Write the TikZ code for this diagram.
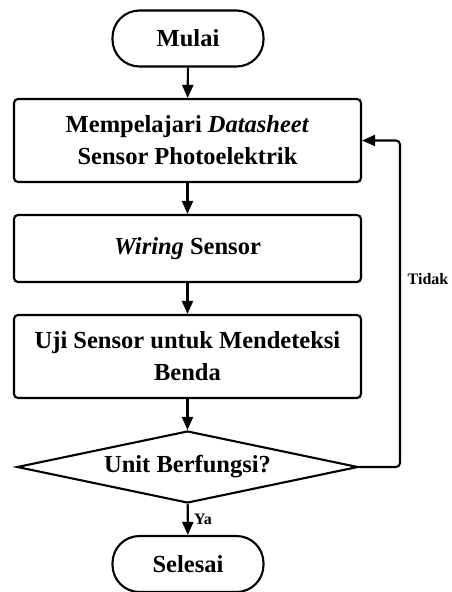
\documentclass[tikz,border=0pt]{standalone}
\usepackage{fontspec}
\setmainfont{Liberation Serif}
\usetikzlibrary{arrows.meta,shapes.geometric}
\begin{document}
\begin{tikzpicture}[x=1pt,y=1pt,
  line width=2.1pt,
  every node/.style={font=\fontsize{24.5}{32}\selectfont\bfseries, align=center},
  terminal/.style={draw, rectangle, rounded corners=27pt, minimum width=151pt, minimum height=56pt, inner sep=0pt},
  process/.style={draw, rectangle, rounded corners=4pt, minimum width=347pt, inner sep=0pt},
  decision/.style={draw, diamond, aspect=4.74, minimum width=341pt, minimum height=72pt, inner sep=0pt},
  flow/.style={-{Triangle[length=13pt,width=11pt]}},
  lbl/.style={font=\fontsize{16}{19}\selectfont\bfseries}
]
\useasboundingbox (0,0) rectangle (451,-592);
\node[terminal] (mulai) at (188,-38.5) {Mulai};
\node[process, minimum height=83pt] (datasheet) at (187.5,-140.5) {Mempelajari \textit{Datasheet}\\Sensor Photoelektrik};
\node[process, minimum height=67pt] (wiring) at (187.5,-248.5) {\textit{Wiring} Sensor};
\node[process, minimum height=83pt] (uji) at (187.5,-356.5) {Uji Sensor untuk Mendeteksi\\Benda};
\node[decision] (cek) at (187.5,-467) {Unit Berfungsi?};
\node[terminal] (selesai) at (188,-564) {Selesai};

\coordinate (kanan) at (400,-467);
\draw[flow] (mulai) -- (datasheet);
\draw[flow] (datasheet) -- (wiring);
\draw[flow] (wiring) -- (uji);
\draw[flow] (uji) -- (cek);
\draw[flow] (cek) -- node[lbl, right, xshift=2pt] (ya) {Ya} (selesai);
\draw[flow, rounded corners=4pt] (cek.east) -- (kanan) |- (datasheet.east);
\node[lbl] (tidak) at (428,-279) {Tidak};
\end{tikzpicture}
\end{document}
